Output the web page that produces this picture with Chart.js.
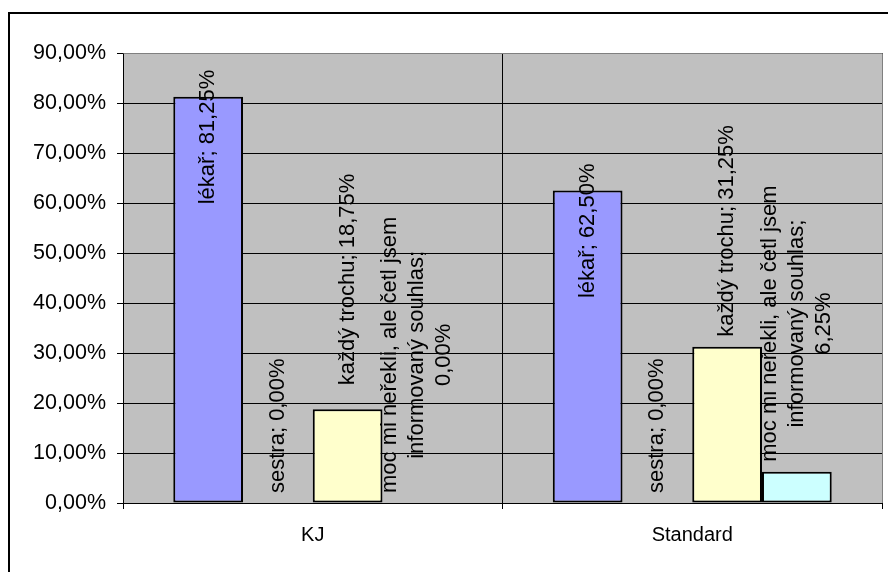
<!DOCTYPE html>
<html>
<head>
<meta charset="utf-8">
<style>
  html, body { margin: 0; padding: 0; background: #ffffff; }
  canvas { display: block; }
</style>
<script src="https://cdn.jsdelivr.net/npm/chart.js@4.4.0/dist/chart.umd.min.js"></script>
</head>
<body>
<canvas id="chart" width="888" height="572"></canvas>
<script>
// Groups on the category axis
const categories = ['KJ', 'Standard'];

// Answer options (series); a long name is split over two lines in its label
const seriesNames = ['lékař', 'sestra', 'každý trochu', 'moc mi neřekli, ale četl jsem informovaný souhlas'];
const seriesNameLines = [
  ['lékař'],
  ['sestra'],
  ['každý trochu'],
  ['moc mi neřekli, ale četl jsem', 'informovaný souhlas']
];

// Shares in percent, one value per category
const lekar  = [81.25, 62.50];
const sestra = [0.00, 0.00];
const kazdy  = [18.75, 31.25];
const moc    = [0.00, 6.25];

// Value axis
const yMin = 0;
const yMax = 90;
const yStep = 10;

const FONT = '"Liberation Sans", Arial, sans-serif';
const seriesValues = [lekar, sestra, kazdy, moc];
const seriesColors = ['#9999FF', '#993366', '#FFFFCC', '#CCFFFF'];

const fmtPct = v => Number(v).toFixed(2).replace('.', ',') + '%';

// Text lines of the label for series i, category j
function labelLines(i, j) {
  const name = seriesNameLines[i];
  const val = fmtPct(seriesValues[i][j]);
  if (name.length === 1) return [name[0] + '; ' + val];
  const out = name.slice();
  out[out.length - 1] += ';';
  out.push(val);
  return out;
}

// Grey plot area behind the grid
const plotBackground = {
  id: 'plotBackground',
  beforeDraw(chart) {
    const { ctx, chartArea: a } = chart;
    ctx.save();
    ctx.fillStyle = '#C0C0C0';
    ctx.fillRect(a.left, a.top, a.right - a.left, a.bottom - a.top);
    ctx.restore();
  },
  beforeDatasetsDraw(chart) {
    // thin grey frame on the top and right edges of the plot area
    const { ctx, chartArea: a } = chart;
    ctx.save();
    ctx.strokeStyle = '#808080';
    ctx.lineWidth = 1;
    ctx.beginPath();
    ctx.moveTo(Math.round(a.left) + 0.5, Math.round(a.top) + 0.5);
    ctx.lineTo(Math.round(a.right) + 0.5, Math.round(a.top) + 0.5);
    ctx.lineTo(Math.round(a.right) + 0.5, Math.round(a.bottom));
    ctx.stroke();
    ctx.restore();
  },
  afterDraw(chart) {
    // frame around the whole chart object
    const { ctx } = chart;
    ctx.save();
    ctx.strokeStyle = '#000';
    ctx.lineWidth = 2;
    ctx.strokeRect(9, 13, 900, 600);
    ctx.restore();
  }
};

// Rotated value labels above each bar
const LABEL_FONT_SIZE = 22;
const LABEL_LINE_HEIGHT = 27;
const LABEL_GAP = 10;
const LABEL_OVERLAP = 27;
const labelNudge = { '2:0': -14 };

const barLabels = {
  id: 'barLabels',
  afterDatasetsDraw(chart) {
    const { ctx, chartArea: a } = chart;
    ctx.save();
    ctx.font = LABEL_FONT_SIZE + 'px ' + FONT;
    ctx.fillStyle = '#000';
    ctx.textAlign = 'center';
    ctx.textBaseline = 'middle';
    chart.data.datasets.forEach((ds, i) => {
      const meta = chart.getDatasetMeta(i);
      meta.data.forEach((bar, j) => {
        const lines = labelLines(i, j);
        const len = Math.max(...lines.map(l => ctx.measureText(l).width));
        let bottom = bar.y - LABEL_GAP + (labelNudge[i + ':' + j] || 0);
        // labels that would run out of the plot slide down over the bar top
        if (bottom - len < a.top) bottom = bar.y - LABEL_OVERLAP + len;
        const cy = bottom - len / 2;
        ctx.save();
        ctx.translate(bar.x, cy);
        ctx.rotate(-Math.PI / 2);
        const n = lines.length;
        lines.forEach((l, k) => ctx.fillText(l, 0, (k - (n - 1) / 2) * LABEL_LINE_HEIGHT));
        ctx.restore();
      });
    });
    ctx.restore();
  }
};

new Chart(document.getElementById('chart'), {
  type: 'bar',
  data: {
    labels: categories,
    datasets: seriesNames.map((name, i) => ({
      label: name,
      data: seriesValues[i],
      backgroundColor: seriesColors[i],
      borderColor: '#000000',
      borderWidth: 2,
      borderSkipped: false,
      barPercentage: 1.0,
      categoryPercentage: 0.735
    }))
  },
  options: {
    responsive: false,
    animation: false,
    devicePixelRatio: 1,
    layout: { padding: { left: 0, top: 53, right: 6, bottom: 0 } },
    plugins: {
      legend: { display: false },
      tooltip: { enabled: false }
    },
    scales: {
      x: {
        grid: { offset: true, color: '#000', lineWidth: 1, tickLength: 6, drawOnChartArea: true },
        border: { color: '#000', width: 1 },
        ticks: { color: '#000', font: { family: FONT, size: 20 }, padding: 14 },
        afterFit(scale) { scale.height = 69; }
      },
      y: {
        min: yMin,
        max: yMax,
        grid: { color: '#000', lineWidth: 1, tickLength: 6 },
        border: { color: '#000', width: 1 },
        ticks: {
          stepSize: yStep,
          color: '#000',
          font: { family: FONT, size: 21.5 },
          padding: 11,
          callback: v => fmtPct(v)
        },
        afterFit(scale) { scale.width = 123; }
      }
    }
  },
  plugins: [plotBackground, barLabels]
});
</script>
</body>
</html>
